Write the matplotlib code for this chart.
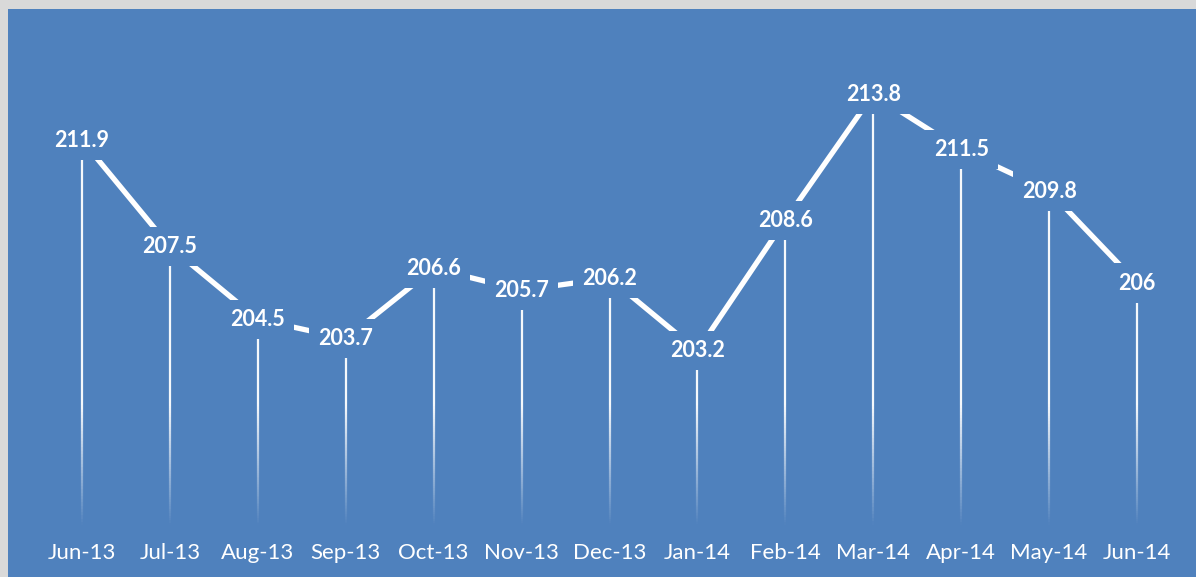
import numpy as np
import matplotlib
matplotlib.use("Agg")
import matplotlib.pyplot as plt
from matplotlib.collections import LineCollection
from matplotlib.patches import Rectangle

months = ['Jun-13', 'Jul-13', 'Aug-13', 'Sep-13', 'Oct-13', 'Nov-13', 'Dec-13',
          'Jan-14', 'Feb-14', 'Mar-14', 'Apr-14', 'May-14', 'Jun-14']
values = [211.9, 207.5, 204.5, 203.7, 206.6, 205.7, 206.2,
          203.2, 208.6, 213.8, 211.5, 209.8, 206]
labels = ['211.9', '207.5', '204.5', '203.7', '206.6', '205.7', '206.2',
          '203.2', '208.6', '213.8', '211.5', '209.8', '206']

BLUE = '#4f81bd'
Y_MIN, Y_MAX = 196, 216

fig = plt.figure(figsize=(11.96, 5.77), dpi=100, facecolor='#d9d9d9')
# blue chart area (leaves thin grey strip top/left)
fig.patches.append(Rectangle((8 / 1196, 0), 1 - 8 / 1196, 1 - 9 / 577,
                             transform=fig.transFigure, facecolor=BLUE,
                             edgecolor='none', zorder=-10))

ax = fig.add_axes([38 / 1196, 52 / 577, (1181 - 38) / 1196, (525 - 41) / 577])
ax.set_facecolor('none')
ax.set_zorder(1)
x = np.arange(len(values))

# drop lines, fading out toward the bottom
segs, cols = [], []
for xi, v in zip(x, values):
    ys = np.linspace(Y_MIN, v, 120)
    for a, b in zip(ys[:-1], ys[1:]):
        segs.append([(xi, a), (xi, b)])
        alpha = np.clip((0.5 * (a + b) - Y_MIN) / 5.0, 0, 1) * 0.95
        cols.append((1, 1, 1, alpha))
ax.add_collection(LineCollection(segs, colors=cols, linewidths=1.6, zorder=1))

ax.plot(x, values, color='white', linewidth=3.8, solid_capstyle='butt',
        solid_joinstyle='miter', zorder=2)

for xi, v, lab in zip(x, values, labels):
    ax.text(xi, v, lab, ha='center', va='center', color='white',
            fontsize=15.5, fontweight='bold', family=['Lato', 'DejaVu Sans'],
            bbox=dict(boxstyle='square,pad=0.42', facecolor=BLUE, edgecolor='none'),
            zorder=3)

ax.set_xlim(-0.5, len(values) - 0.5)
ax.set_ylim(Y_MIN, Y_MAX)
ax.set_xticks(x)
ax.set_xticklabels(months, color='white', fontsize=16, family=['Lato', 'DejaVu Sans'])
ax.tick_params(axis='x', length=0, pad=13)
ax.set_yticks([])
for s in ax.spines.values():
    s.set_visible(False)

fig.savefig('out.png', dpi=100, facecolor=fig.get_facecolor())
